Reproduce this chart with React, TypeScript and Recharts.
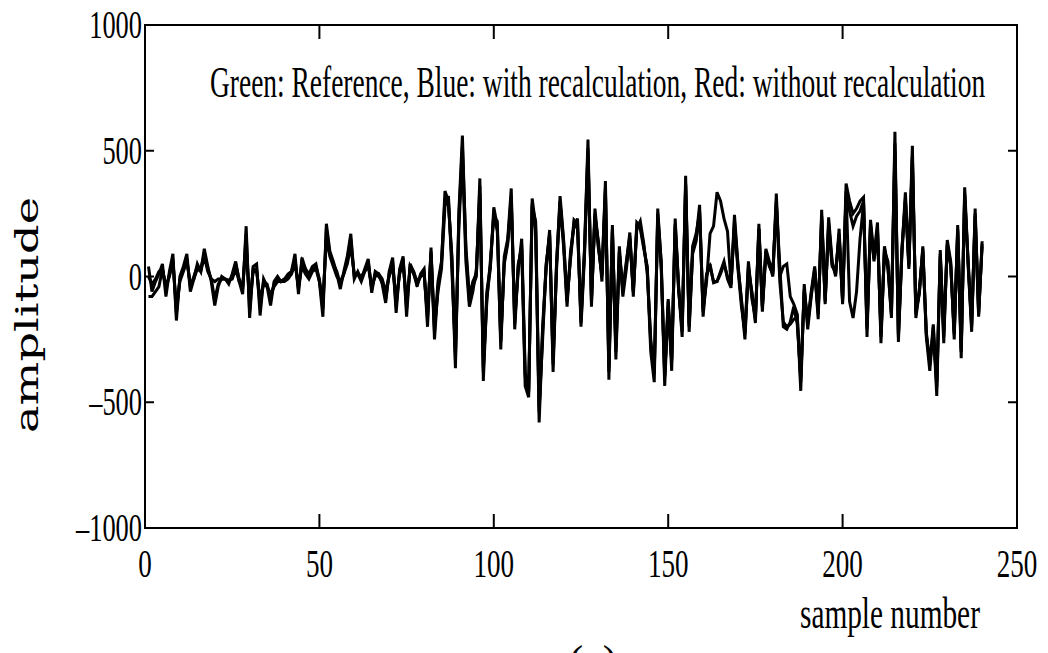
import React from 'react';
import { LineChart, Line, XAxis, YAxis, ReferenceArea } from 'recharts';

// values, samples 1..240
const withRecalc = [
  40, -60, -20, 10, 50, -80, 20, 90, -175, 0,
  40, 90, -60, -10, 50, 20, 110, 40, -20, -115,
  -40, 0, -10, -30, 10, 60, -20, -70, 200, -165,
  40, 50, -155, -10, -40, -115, -20, 0, -20, -10,
  10, 20, 90, -70, 75, 30, 10, 40, 50, -20,
  -160, 210, 100, 60, 10, -50, 20, 80, 170, -10,
  20, -10, 30, 70, -65, 20, 10, -30, -105, 20,
  75, -145, 30, 80, -160, 50, 20, -40, 10, 30,
  -200, 115, -250, -40, 50, 340, 300, 60, -365, 260,
  560, 100, -100, -40, 0, 390, -415, -80, 30, 275,
  200, -290, 80, 150, 350, -210, 40, 125, -435, -480,
  310, 200, -580, -220, 30, 185, -380, 50, 320, 150,
  -100, 80, 225, 210, -185, 100, 545, -120, 270, 120,
  0, 380, -410, 205, -330, 100, -60, 50, 175, -80,
  215, 200, 120, 30, -300, -420, 270, 50, -435, -100,
  -375, 230, -50, -240, 400, -220, 100, 150, 285, -160,
  0, 50, -25, -20, 20, 60, -10, -45, 245, 50,
  -100, -250, 40, -70, -185, 210, -140, 100, 50, 0,
  330, 0, 40, 50, -80, -110, -150, -455, -30, -210,
  -80, 30, -170, 265, -110, 235, 60, 0, 190, -110,
  370, 300, 250, 270, 300, 315, -240, 225, 80, 215,
  -265, 120, 40, -165, 575, -260, 100, 335, 40, 520,
  -165, -60, 110, -240, -375, -200, -475, 105, -265, 145,
  60, -250, 205, -325, 355, 50, -220, 270, -160, 140,
];

const reference = [
  0, -30, -10, 20, 30, -50, 10, 70, -150, -10,
  30, 70, -40, 0, 40, 30, 90, 30, -10, -90,
  -30, -10, -10, -20, 0, 50, -10, -50, 170, -140,
  30, 30, -120, -20, -30, -90, -30, -10, -20, -10,
  0, 20, 70, -50, 60, 30, 0, 30, 40, -10,
  -130, 190, 90, 50, 20, -30, 10, 70, 150, 0,
  10, -20, 20, 60, -50, 10, 0, -20, -90, 10,
  60, -120, 20, 70, -130, 40, 10, -30, 0, 20,
  -170, 100, -220, -20, 60, 310, 280, 80, -330, 240,
  520, 120, -80, -20, 10, 360, -380, -60, 40, 250,
  180, -260, 60, 140, 320, -190, 50, 110, -400, -450,
  290, 180, -540, -200, 40, 170, -350, 60, 300, 140,
  -90, 70, 210, 190, -170, 110, 510, -100, 250, 110,
  10, 350, -380, 190, -300, 90, -50, 60, 160, -60,
  200, 190, 110, 40, -270, -390, 250, 60, -400, -90,
  -340, 210, -40, -220, 370, -200, 90, 140, 260, -140,
  10, 40, -20, -20, 10, 50, 0, -30, 220, 40,
  -90, -230, 30, -60, -170, 190, -120, 90, 40, 10,
  300, -20, -180, -200, -190, -170, -160, -420, -50, -190,
  -70, 20, -150, 240, -100, 210, 50, 10, 170, -90,
  340, -100, -165, -60, 150, 290, -210, 200, 70, 190,
  -240, 110, 30, -150, 530, -240, 90, 310, 50, 480,
  -150, -50, 100, -220, -350, -190, -440, 90, -240, 130,
  50, -230, 190, -300, 330, 40, -200, 250, -140, 120,
];

const withoutRecalc = [
  -80, -80, -60, -40, 30, -40, 0, 60, -120, -20,
  20, 60, -30, -10, 30, 20, 80, 20, -10, -20,
  -10, -10, -10, -15, -10, 30, -20, -40, 120, -100,
  20, 20, -90, -30, -40, -70, -40, -20, -20, -20,
  -10, 10, 50, -40, 40, 10, -10, 20, 30, -20,
  -100, 150, 80, 40, 0, -20, 10, 50, 120, 10,
  10, 0, 20, 40, -40, 0, 10, -10, -60, 0,
  40, -90, 10, 50, -100, 30, 20, -20, 0, 10,
  -150, 90, -200, -60, 30, 280, 320, 20, -300, 200,
  480, 60, -120, -60, 30, 330, -360, -100, 60, 240,
  220, -250, 50, 130, 300, -170, 20, 150, -380, -460,
  280, 220, -520, -250, 50, 160, -330, 30, 290, 120,
  -120, 100, 200, 230, -200, 80, 490, -90, 240, 140,
  -20, 340, -360, 180, -280, 120, -80, 30, 150, -60,
  190, 220, 130, 10, -250, -380, 230, 30, -390, -120,
  -330, 200, -60, -200, 360, -190, 120, 170, 250, -130,
  -20, 170, 200, 335, 300, 230, 180, -30, 200, 30,
  -120, -220, 60, -90, -160, 190, -120, 110, 60, 20,
  290, 40, -200, -210, -180, -120, -190, -400, -60, -180,
  -60, 40, -140, 230, -90, 200, 40, 20, 160, -100,
  320, 260, 200, 240, 260, 300, -200, 210, 60, 180,
  -230, 100, 60, -140, 500, -230, 110, 300, 30, 470,
  -140, -70, 120, -230, -340, -230, -420, 80, -220, 120,
  40, -220, 180, -290, 320, 60, -190, 240, -150, 130,
];

const xTicks = [0, 50, 100, 150, 200, 250];
const yTicks = [-1000, -500, 0, 500, 1000];

const data = withRecalc.map((v, i) => ({
  n: i + 1,
  reference: reference[i],
  withRecalc: v,
  withoutRecalc: withoutRecalc[i],
}));

const FONT = '"Liberation Serif", "Times New Roman", serif';

// frame edges of the plot box
const LEFT = 145;
const RIGHT = 1017;
const TOP = 25;
const BOTTOM = 528;

const BottomTick = (props: any) => {
  const { x, payload } = props;
  return (
    <g>
      <line x1={x} y1={BOTTOM} x2={x} y2={BOTTOM - 14} stroke="#000" strokeWidth={2} />
      <line x1={x} y1={TOP} x2={x} y2={TOP + 14} stroke="#000" strokeWidth={2} />
      <text
        transform={`translate(${x},${BOTTOM + 49}) scale(0.66,1)`}
        textAnchor="middle"
        fontFamily={FONT}
        fontSize={41}
        fill="#000"
      >
        {payload.value}
      </text>
    </g>
  );
};

const LeftTick = (props: any) => {
  const { y, payload } = props;
  const label = payload.value < 0 ? `\u2013${Math.abs(payload.value)}` : `${payload.value}`;
  return (
    <g>
      <line x1={LEFT} y1={y} x2={LEFT + 9} y2={y} stroke="#000" strokeWidth={2} />
      <line x1={RIGHT} y1={y} x2={RIGHT - 9} y2={y} stroke="#000" strokeWidth={2} />
      <text
        transform={`translate(${LEFT - 3},${y + 13}) scale(0.66,1)`}
        textAnchor="end"
        fontFamily={FONT}
        fontSize={40}
        fill="#000"
      >
        {label}
      </text>
    </g>
  );
};

export default function App() {
  return (
    <div style={{ position: 'absolute', left: 0, top: 0, width: 1048, height: 653, background: '#fff', overflow: 'hidden' }}>
      <LineChart width={1048} height={653} data={data} margin={{ top: TOP, right: 1048 - RIGHT, bottom: 653 - BOTTOM - 40, left: LEFT - 60 }}>
        <XAxis
          dataKey="n"
          type="number"
          domain={[0, 250]}
          ticks={xTicks}
          height={40}
          tickSize={0}
          tickMargin={0}
          tickLine={false}
          axisLine={{ stroke: '#000', strokeWidth: 2 }}
          tick={<BottomTick />}
        />
        <YAxis
          type="number"
          domain={[-1000, 1000]}
          ticks={yTicks}
          width={60}
          tickSize={0}
          tickMargin={0}
          tickLine={false}
          axisLine={{ stroke: '#000', strokeWidth: 2 }}
          tick={<LeftTick />}
        />
        <ReferenceArea x1={0} x2={250} y1={-1000} y2={1000} fill="none" stroke="#000" strokeWidth={2} ifOverflow="extendDomain" />
        <Line dataKey="reference" type="linear" stroke="#000" strokeWidth={3} dot={false} isAnimationActive={false} />
        <Line dataKey="withRecalc" type="linear" stroke="#000" strokeWidth={3} dot={false} isAnimationActive={false} />
        <Line dataKey="withoutRecalc" type="linear" stroke="#000" strokeWidth={3} dot={false} isAnimationActive={false} />
      </LineChart>
      <svg width={1048} height={653} style={{ position: 'absolute', left: 0, top: 0, pointerEvents: 'none' }}>
        <text
          transform="translate(210,97) scale(0.6,1)"
          fontFamily={FONT}
          fontSize={44}
          textLength={1292}
          lengthAdjust="spacingAndGlyphs"
          fill="#000"
        >
          Green: Reference, Blue: with recalculation, Red: without recalculation
        </text>
        <text
          transform="translate(38,315) rotate(-90)"
          textAnchor="middle"
          fontFamily='"DejaVu Serif", serif'
          fontSize={32}
          textLength={236}
          lengthAdjust="spacingAndGlyphs"
          fill="#000"
        >
          amplitude
        </text>
        <text
          transform="translate(800,628) scale(0.7,1)"
          fontFamily={FONT}
          fontSize={44}
          textLength={257}
          lengthAdjust="spacingAndGlyphs"
          fill="#000"
        >
          sample number
        </text>
        <text x={593} y={676} textAnchor="middle" fontFamily={FONT} fontSize={44} fill="#000">
          (a)
        </text>
      </svg>
    </div>
  );
}
